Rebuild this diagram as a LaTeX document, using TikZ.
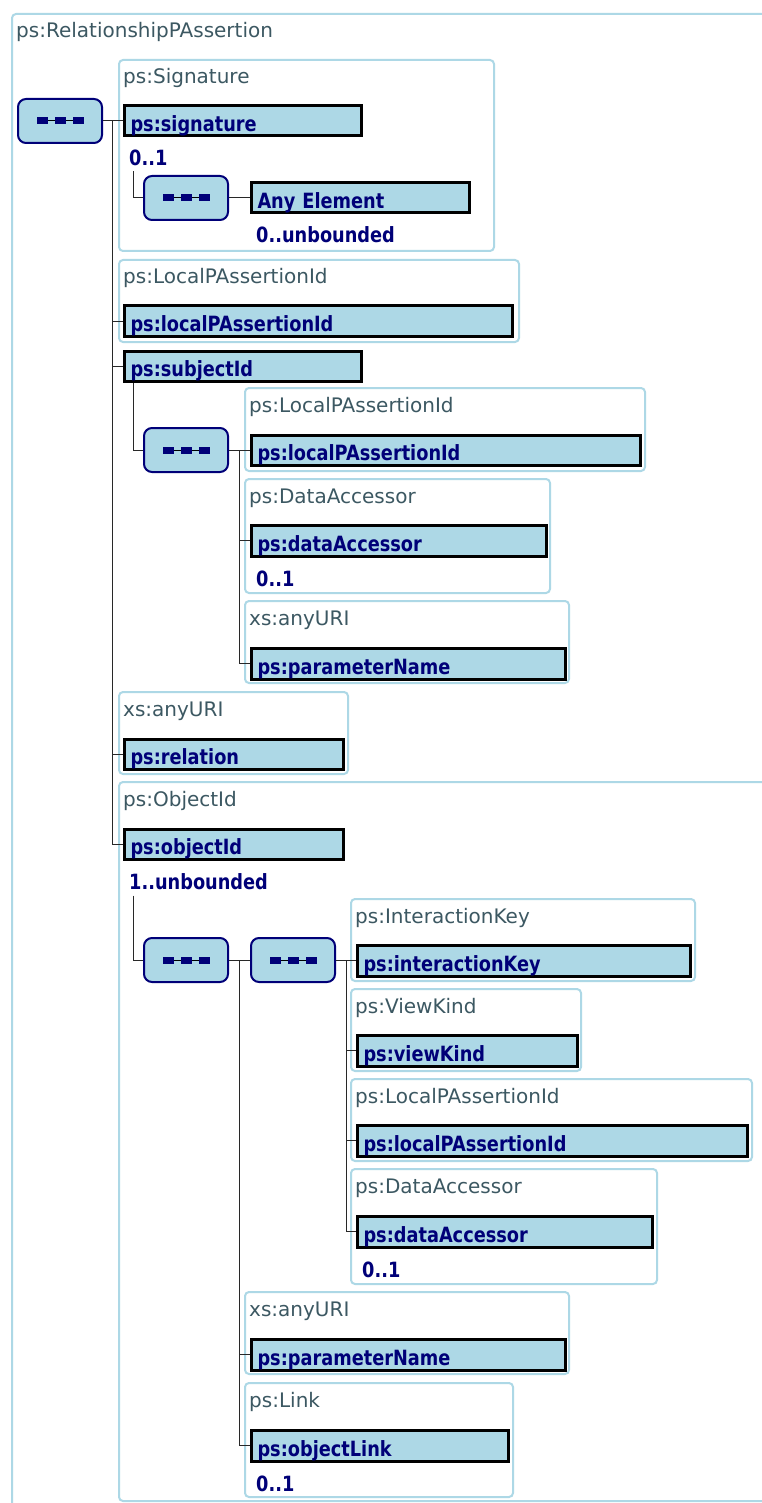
\documentclass[tikz,border=0pt]{standalone}
\usepackage{fontspec}
\setmainfont{DejaVu Sans}
\newfontfamily\elfont{DejaVu Sans}[FakeStretch=0.845]
\usetikzlibrary{calc}
\definecolor{lb}{RGB}{173,216,230}
\definecolor{nv}{RGB}{0,0,120}
\definecolor{tt}{RGB}{60,88,98}
\definecolor{ln}{RGB}{40,40,40}
\tikzset{
 frm/.style={draw=lb, line width=2pt, rounded corners=4pt, anchor=north west, inner sep=0pt},
 ttl/.style={anchor=base west, inner sep=0pt, text=tt, font=\fontsize{20}{24}\selectfont},
 elem/.style={draw=black, line width=3pt, fill=lb, anchor=north west, inner xsep=6.5pt, inner ysep=0pt, text height=22pt, text depth=1pt, align=left, text=nv, font=\elfont\bfseries\fontsize{21}{24}\selectfont},
 occ/.style={anchor=base west, inner sep=0pt, text=nv, font=\elfont\bfseries\fontsize{21}{24}\selectfont},
 seqbox/.style={draw=nv, line width=2pt, fill=lb, rounded corners=8pt, minimum width=84pt, minimum height=44pt, inner sep=0pt, anchor=north west},
 seqdot/.style={fill=nv, minimum width=11pt, minimum height=7pt, inner sep=0pt},
 conn/.style={draw=ln, line width=1pt},
}
\newcommand\mkframe[6]{%
  \pgfmathsetmacro\fw{#4-#2-2}%
  \pgfmathsetmacro\fh{#5-#3-2}%
  \node[frm, minimum width=\fw pt, minimum height=\fh pt] (#1) at (#2+1,#3+1) {};
  \node[ttl] (#1t) at ($(#1.north west)+(5,25)$) {#6};
}
\newcommand\mkelem[6]{%
  \pgfmathsetmacro\tw{#4-#2-16}%
  \pgfmathsetmacro\eh{#5-#3-3}%
  \node[elem, text width=\tw pt, minimum height=\eh pt] (#1) at (#2+1.5,#3+1.5) {#6};
}
\newcommand\mkseq[3]{%
  \node[seqbox] (#1) at (#2+1,#3+1) {};
  \draw[line width=1pt] ($(#1.center)+(-18,0)$) -- ($(#1.center)+(18,0)$);
  \node[seqdot] (#1a) at ($(#1.center)+(-18,0)$) {};
  \node[seqdot] (#1b) at (#1.center) {};
  \node[seqdot] (#1c) at ($(#1.center)+(18,0)$) {};
}
\begin{document}
\begin{tikzpicture}[x=1pt,y=-1pt]
\useasboundingbox (0,0) rectangle (762,1503);
\clip (0,0) rectangle (762,1503);
\fill[white] (0,0) rectangle (762,1503);
% frames
\mkframe{F0}{10}{12}{900}{1700}{ps:RelationshipPAssertion}
\mkframe{F1}{117}{58}{494}{251}{ps:Signature}
\mkframe{F2}{117}{258}{519}{342}{ps:LocalPAssertionId}
\mkframe{F3}{243}{386}{645}{471}{ps:LocalPAssertionId}
\mkframe{F4}{243}{477}{550}{593}{ps:DataAccessor}
\mkframe{F5}{243}{599}{569}{683}{xs:anyURI}
\mkframe{F6}{117}{690}{348}{774}{xs:anyURI}
\mkframe{F7}{117}{780}{900}{1501}{ps:ObjectId}
\mkframe{F8}{349}{897}{695}{981}{ps:InteractionKey}
\mkframe{F9}{349}{987}{581}{1071}{ps:ViewKind}
\mkframe{F10}{349}{1077}{752}{1161}{ps:LocalPAssertionId}
\mkframe{F11}{349}{1167}{657}{1284}{ps:DataAccessor}
\mkframe{F12}{243}{1290}{569}{1374}{xs:anyURI}
\mkframe{F13}{243}{1381}{513}{1497}{ps:Link}
% sequence boxes
\mkseq{S1}{16}{97}
\mkseq{S2}{142}{174}
\mkseq{S3}{142}{426}
\mkseq{S4}{142}{936}
\mkseq{S5}{249}{936}
% elements
\mkelem{E1}{121}{103}{361}{136}{ps:signature}
\mkelem{E2}{248}{180}{469}{213}{Any Element}
\mkelem{E3}{121}{303}{512}{336}{ps:localPAssertionId}
\mkelem{E4}{121}{348}{361}{381}{ps:subjectId}
\mkelem{E5}{248}{432}{640}{465}{ps:localPAssertionId}
\mkelem{E6}{248}{522}{546}{556}{ps:dataAccessor}
\mkelem{E7}{248}{645}{565}{679}{ps:parameterName}
\mkelem{E8}{121}{736}{343}{769}{ps:relation}
\mkelem{E9}{121}{826}{343}{859}{ps:objectId}
\mkelem{E10}{354}{942}{690}{976}{ps:interactionKey}
\mkelem{E11}{354}{1032}{577}{1066}{ps:viewKind}
\mkelem{E12}{354}{1122}{747}{1156}{ps:localPAssertionId}
\mkelem{E13}{354}{1213}{652}{1247}{ps:dataAccessor}
\mkelem{E14}{248}{1336}{565}{1370}{ps:parameterName}
\mkelem{E15}{248}{1427}{508}{1461}{ps:objectLink}
% occurrences
\node[occ] (o1) at ($(E1.south west)+(6.5,28.5)$) {0..1};
\node[occ] (o2) at ($(E2.south west)+(6.5,28.5)$) {0..unbounded};
\node[occ] (o3) at ($(E6.south west)+(6.5,28.5)$) {0..1};
\node[occ] (o4) at ($(E9.south west)+(6.5,28.5)$) {1..unbounded};
\node[occ] (o5) at ($(E13.south west)+(6.5,28.5)$) {0..1};
\node[occ] (o6) at ($(E15.south west)+(6.5,28.5)$) {0..1};
% connectors
\coordinate (tx) at ($(S1.east)+(9,0)$);
\coordinate (bx) at ($(E1.south west)+(10.5,0)$);
\coordinate (c2) at ($(o1.south -| bx)+(0,5)$);
\coordinate (c4) at ($(o4.south -| bx)+(0,6)$);
\coordinate (b3) at ($(S3.east)+(10,0)$);
\coordinate (b4) at ($(S4.east)+(10,0)$);
\coordinate (b5) at ($(S5.east)+(10,0)$);
\draw[conn] (S1.east) -- (tx) |- (E9.west);
\foreach \e in {E1,E3,E4,E8} \draw[conn] (tx) |- (\e.west);
\draw[conn] (c2) |- (S2.west);
\draw[conn] (S2.east) -- (S2.east -| E2.west);
\draw[conn] (E4.south -| bx) |- (S3.west);
\draw[conn] (S3.east) -- (b3) |- (E7.west);
\foreach \e in {E5,E6} \draw[conn] (b3) |- (\e.west);
\draw[conn] (c4) |- (S4.west);
\draw[conn] (S4.east) -- (S5.west);
\draw[conn] (b4) |- (E15.west);
\draw[conn] (b4) |- (E14.west);
\draw[conn] (S5.east) -- (b5) |- (E13.west);
\foreach \e in {E10,E11,E12} \draw[conn] (b5) |- (\e.west);
\end{tikzpicture}
\end{document}
